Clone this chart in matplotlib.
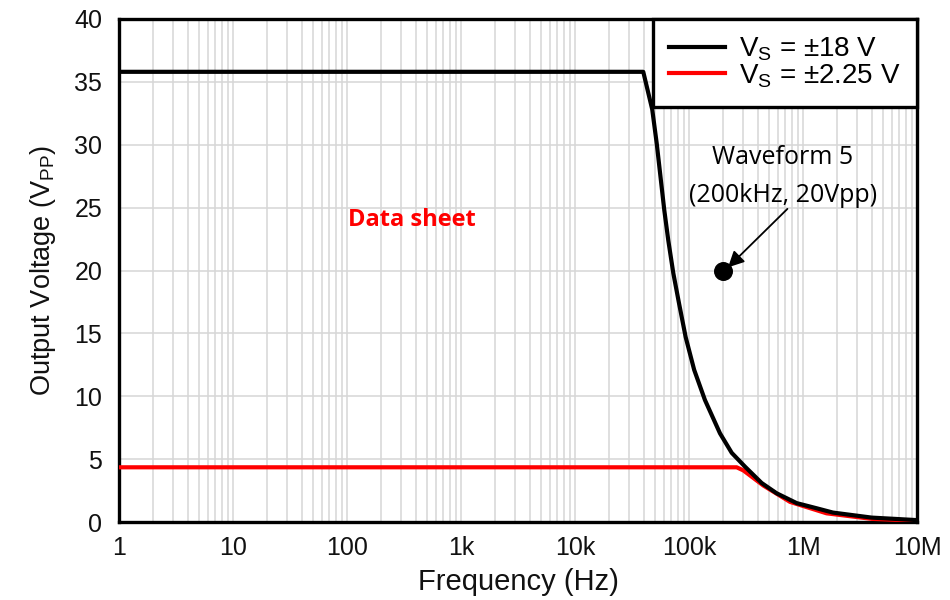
import matplotlib
matplotlib.use("Agg")
import matplotlib.pyplot as plt
from matplotlib.ticker import FixedLocator, LogLocator, NullFormatter

# Data
freq_18 = [1, 10, 100, 1e3, 1e4, 39.7e3, 47.6e3, 52.1e3, 60.7e3, 65.8e3, 72.8e3, 81.7e3,
           93.5e3, 111e3, 138e3, 187e3, 237e3, 310e3, 434e3, 588e3, 881e3, 1.32e6,
           1.83e6, 4.0e6, 10e6]
vout_18 = [35.8, 35.8, 35.8, 35.8, 35.8, 35.8, 32.8, 30.1, 24.8, 22.4, 19.8, 17.4,
           14.7, 12.1, 9.7, 7.05, 5.5, 4.4, 3.1, 2.28, 1.5, 1.09,
           0.75, 0.35, 0.15]
freq_225 = [1, 10, 100, 1e3, 1e4, 1e5, 262e3, 300e3, 449e3, 769e3, 1.61e6, 4.0e6, 10e6]
vout_225 = [4.35, 4.35, 4.35, 4.35, 4.35, 4.35, 4.35, 4.1, 2.9, 1.6, 0.69, 0.25, 0.1]
wave_f = [200e3]
wave_v = [20]
xtick_vals = [1, 10, 100, 1e3, 1e4, 1e5, 1e6, 1e7]
xtick_labels = ["1", "10", "100", "1k", "10k", "100k", "1M", "10M"]
ytick_vals = [0, 5, 10, 15, 20, 25, 30, 35, 40]

plt.rcParams['font.family'] = ['Liberation Sans', 'DejaVu Sans']

fig = plt.figure(figsize=(9.5, 6), dpi=100)
ax = fig.add_axes([119/950, 1 - 522/600, (917-119)/950, (522-19)/600])

ax.set_xscale('log')
ax.set_xlim(1, 1e7)
ax.set_ylim(0, 40)

ax.xaxis.set_major_locator(FixedLocator(xtick_vals))
ax.set_xticklabels(xtick_labels)
ax.xaxis.set_minor_locator(LogLocator(base=10, subs=range(2, 10), numticks=100))
ax.xaxis.set_minor_formatter(NullFormatter())
ax.set_yticks(ytick_vals)

ax.grid(True, which='major', color='#d6d6d6', linewidth=1.1)
ax.grid(True, which='minor', axis='x', color='#d6d6d6', linewidth=1.1)
ax.set_axisbelow(True)

ax.tick_params(axis='both', which='both', length=0, labelsize=18, colors='#111111')
ax.tick_params(axis='x', pad=10)
ax.tick_params(axis='y', pad=12)
for s in ax.spines.values():
    s.set_linewidth(2.4)
    s.set_color('black')

l1, = ax.plot(freq_18, vout_18, color='black', linewidth=3.0,
              label=r'V$_\mathregular{S}$ = ±18 V', zorder=4, solid_joinstyle='round')
l2, = ax.plot(freq_225, vout_225, color='#ff0000', linewidth=3.0,
              label=r'V$_\mathregular{S}$ = ±2.25 V', zorder=3, solid_joinstyle='round')

ax.scatter(wave_f, wave_v, s=160, color='black', zorder=6)
ax.annotate('', xy=(2.2e5, 20.25), xytext=(7.3e5, 24.9),
            arrowprops=dict(arrowstyle='-|>', color='black', lw=1.3, mutation_scale=24,
                            shrinkA=0, shrinkB=0), zorder=7)
ax.text(6.68e5, 28.95, 'Waveform 5', ha='center', va='center', fontsize=18,
        family=['Open Sans', 'DejaVu Sans'])
ax.text(6.68e5, 26.0, '(200kHz, 20Vpp)', ha='center', va='center', fontsize=18,
        family=['Open Sans', 'DejaVu Sans'])

ax.text(372, 24.0, 'Data sheet', color='#ff0000', fontsize=17, fontweight='bold',
        family=['Open Sans', 'DejaVu Sans'], ha='center', va='center')

leg = ax.legend(handles=[l1, l2], loc='upper right', bbox_to_anchor=(1, 1),
                borderaxespad=0, fancybox=False, framealpha=1, edgecolor='black',
                fontsize=20, handlelength=2.0, borderpad=0.6, labelspacing=-0.05,
                handletextpad=0.5)
leg.get_frame().set_linewidth(2.4)
leg.set_zorder(10)

ax.set_xlabel('Frequency (Hz)', fontsize=21, color='#111111', labelpad=6)
ax.set_ylabel(r'Output Voltage (V$_\mathregular{PP}$)', fontsize=19.5, color='#111111', labelpad=12)

fig.savefig('out.png', dpi=100)
